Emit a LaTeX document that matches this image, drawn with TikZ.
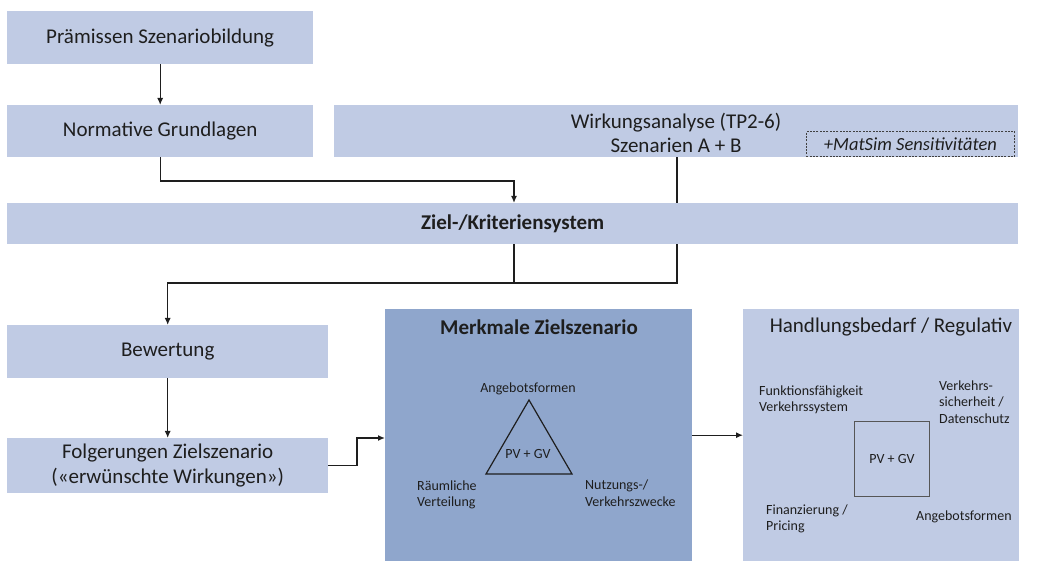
\documentclass[tikz,border=0pt]{standalone}
\usepackage{fontspec}
\setmainfont{Carlito}
\usetikzlibrary{arrows.meta}
\definecolor{boxlight}{RGB}{192,203,228}
\definecolor{boxdark}{RGB}{143,166,204}
\definecolor{ink}{RGB}{30,30,30}
\tikzset{
  bx/.style={fill=boxlight, draw=none, inner sep=0pt, anchor=north west, text=ink,
    font=\fontsize{21}{25}\selectfont, align=center},
  lbl/.style={inner sep=0pt, text=ink, font=\fontsize{14}{16.5}\selectfont},
  conn/.style={draw=ink, line width=1.3pt},
  arr/.style={conn, -{Latex[length=7pt,width=6pt]}},
}
\begin{document}
\begin{tikzpicture}[x=1pt,y=-1pt]
\useasboundingbox (0,0) rectangle (1037,561);
% boxes
\node[bx, minimum width=306pt, minimum height=53pt] (prem) at (7,11) {Prämissen Szenariobildung};
\node[bx, minimum width=306pt, minimum height=52pt] (norm) at (7,105) {Normative Grundlagen};
\node[bx, minimum width=684pt, minimum height=52pt] (wirk) at (334,105) {};
\node[text=ink, font=\fontsize{21}{24}\selectfont, align=center, inner sep=0pt] (wirkt) at (676,133) {Wirkungsanalyse (TP2-6)\\Szenarien A + B};
\node[draw=ink!85, dash pattern=on 2pt off 1.3pt, line width=0.9pt, inner sep=0pt, anchor=north west,
  minimum width=208pt, minimum height=25pt, text=ink, font=\fontsize{18.5}{20}\selectfont\itshape] (mat) at (806,131) {+MatSim Sensitivitäten};
\node[bx, minimum width=1011pt, minimum height=41pt, font=\fontsize{21}{25}\selectfont\bfseries] (ziel) at (7,203) {Ziel-/Kriteriensystem};
\node[bx, minimum width=321pt, minimum height=53pt] (bew) at (7,325) {Bewertung};
\node[bx, minimum width=321pt, minimum height=55pt] (folg) at (7,438) {Folgerungen Zielszenario\\(«erwünschte Wirkungen»)};
\node[bx, fill=boxdark, minimum width=307pt, minimum height=252pt] (merk) at (385,309) {};
\node[bx, minimum width=276pt, minimum height=252pt] (hand) at (743,309) {};
% titles
\node[text=ink, inner sep=0pt, font=\fontsize{21}{25}\selectfont\bfseries] (merkt) at (539,327) {Merkmale Zielszenario};
\node[text=ink, inner sep=0pt, font=\fontsize{21}{25}\selectfont] (handt) at (891,327) {Handlungsbedarf / Regulativ};
% triangle
\coordinate (ta) at (529,400);
\coordinate (tl) at (486,474);
\coordinate (tr) at (572,474);
\draw[draw=ink, line width=1.2pt, line join=miter] (ta) -- (tl) -- (tr) -- cycle;
\node[lbl] (tpv) at (528,454) {PV + GV};
\node[lbl] (tang) at (528,389) {Angebotsformen};
\node[lbl, anchor=west, align=left] (traum) at (417,495) {Räumliche\\Verteilung};
\node[lbl, anchor=west, align=left] (tnutz) at (585,493) {Nutzungs-/\\Verkehrszwecke};
% square
\node[draw=ink!75, line width=1pt, minimum width=75pt, minimum height=75pt, inner sep=0pt, anchor=north west,
  text=ink, font=\fontsize{14}{16.5}\selectfont] (sq) at (854,421) {PV + GV};
\node[lbl, anchor=west, align=left] (hfunk) at (759,400) {Funktionsfähigkeit\\Verkehrssystem};
\node[lbl, anchor=west, align=left] (hverk) at (939,402) {Verkehrs-\\sicherheit /\\Datenschutz};
\node[lbl, anchor=west, align=left] (hfin) at (766,519) {Finanzierung /\\Pricing};
\node[lbl, anchor=west, align=left] (hang) at (916,517) {Angebotsformen};
% connectors
\coordinate (j1) at (514,181);
\coordinate (h) at (677,283);
\coordinate (h2) at (514,283);
\coordinate (k) at (357,438);
\draw[arr] (prem.south) -- (norm.north);
\draw[arr] (norm.south) |- (j1) -- (j1 |- ziel.north);
\draw[conn] (wirk.south -| h) -- (ziel.north -| h);
\draw[arr] (ziel.south -| h) -- (h) -| (bew.north);
\draw[conn] (ziel.south -| h2) -- (h2);
\draw[arr] (bew.south) -- (folg.north);
\draw[arr] (folg.east) -| (k) -- (k -| merk.west);
\draw[arr] (merk.east) -- (hand.west);
\end{tikzpicture}
\end{document}
